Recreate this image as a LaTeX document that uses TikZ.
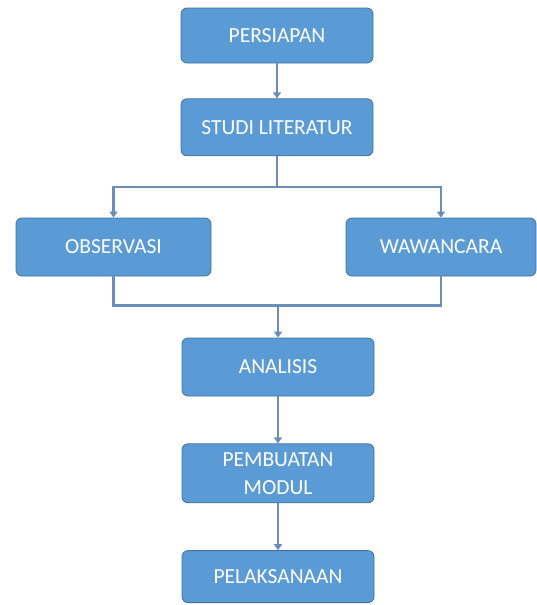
\documentclass[tikz,border=0pt]{standalone}
\usepackage{fontspec}
\setmainfont{Carlito}
\definecolor{kotakbiru}{RGB}{91,155,213}
\definecolor{garisbiru}{RGB}{65,113,156}
\definecolor{panahbiru}{RGB}{108,142,182}
\usetikzlibrary{positioning}
\usetikzlibrary{arrows.meta}
\tikzset{
  tahap/.style={fill=kotakbiru, draw=garisbiru, line width=0.8pt, rounded corners=6pt,
    text=white, align=center, minimum width=192pt, minimum height=57pt,
    inner sep=0pt, font=\fontsize{21.5}{28}\selectfont},
  alur/.style={draw=panahbiru, line width=2.4pt,
    -{Triangle[width=8pt,length=6pt]}},
  sambung/.style={draw=panahbiru, line width=2.4pt}
}

\begin{document}
\begin{tikzpicture}
  \useasboundingbox (0,0) rectangle (537pt,-605pt);
  \node [tahap, minimum height=55pt] (persiapan) at (277pt,-35.5pt) {PERSIAPAN};
  \node [tahap, below=35pt of persiapan] (studi) {STUDI LITERATUR};

  \node [tahap, minimum width=195pt, minimum height=58pt] (observasi) at (113.5pt,-247pt) {OBSERVASI};
  \node [tahap, minimum width=190pt, minimum height=58pt] (wawancara) at (441pt,-247pt) {WAWANCARA};

  \node [tahap, minimum height=58pt] (analisis) at (278pt,-367pt) {ANALISIS};
  \node [tahap, minimum height=59pt, below=47pt of analisis] (pembuatan) {PEMBUATAN\\MODUL};
  \node [tahap, minimum height=52pt, below=47pt of pembuatan] (pelaksanaan) {PELAKSANAAN};

  \coordinate (cabang) at ([yshift=-31pt]studi.south);
  \coordinate (gabung) at ([yshift=32pt]analisis.north);

  \draw [alur] (persiapan) -- (studi);
  \draw [sambung] (studi.south) -- (cabang);
  \draw [alur] (cabang) -| (observasi.north);
  \draw [alur] (cabang) -| (wawancara.north);

  \draw [sambung] (observasi.south) |- (gabung);
  \draw [sambung] (wawancara.south) |- (gabung);
  \draw [alur] (gabung) -- (analisis);

  \draw [alur] (analisis) -- (pembuatan);
  \draw [alur] (pembuatan) -- (pelaksanaan);
\end{tikzpicture}
\end{document}
